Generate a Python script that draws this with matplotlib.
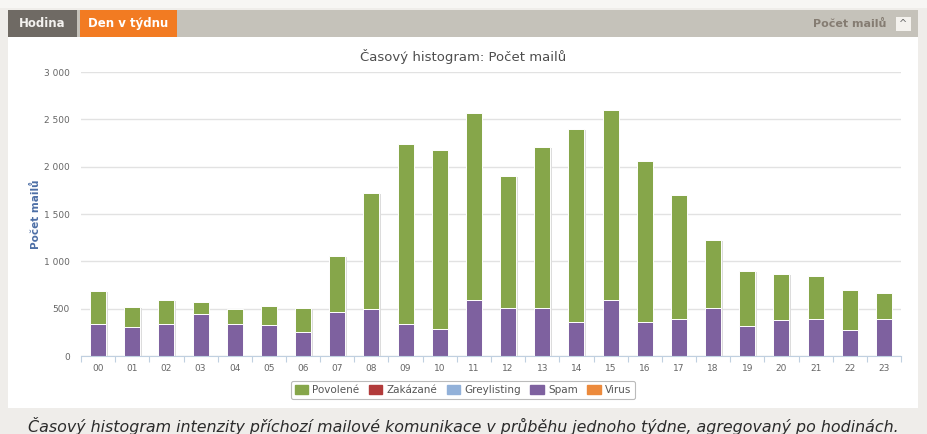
import matplotlib
matplotlib.use("Agg")
import matplotlib.pyplot as plt
import matplotlib.patches as mpatches
import matplotlib.transforms as mtrans
import numpy as np

hours = ["00", "01", "02", "03", "04", "05", "06", "07", "08", "09", "10", "11",
         "12", "13", "14", "15", "16", "17", "18", "19", "20", "21", "22", "23"]
povolene = [350, 207, 257, 132, 161, 200, 250, 593, 1232, 1893, 1889, 1972,
            1391, 1706, 2034, 2004, 1693, 1309, 718, 579, 492, 454, 417, 279]
zakazane = [0] * 24
greylisting = [0] * 24
spam = [336, 311, 336, 439, 339, 329, 257, 464, 493, 343, 282, 596,
        507, 507, 364, 596, 364, 396, 507, 314, 379, 396, 279, 389]
virus = [0] * 24
yticks = [0, 500, 1000, 1500, 2000, 2500, 3000]
ytick_labels = ["0", "500", "1 000", "1 500", "2 000", "2 500", "3 000"]

series_names = ["Povolené", "Zakázané", "Greylisting", "Spam", "Virus"]
colors = {"Povolené": "#86a64a", "Zakázané": "#b23b3b", "Greylisting": "#92b1d9",
          "Spam": "#7e619f", "Virus": "#ec8a3c"}

W, H = 927, 434
fig = plt.figure(figsize=(W / 100, H / 100), dpi=100)
fig.patch.set_facecolor("#efedea")

def fx(px):
    return px / W

def fy(py):
    return 1 - py / H

def frect(x0, y0, x1, y1, color, **kw):
    fig.patches.append(mpatches.Rectangle((fx(x0), fy(y1)), fx(x1 - x0), (y1 - y0) / H,
                                          transform=fig.transFigure, facecolor=color,
                                          edgecolor="none", zorder=-5, **kw))

# top strip, panel, header
frect(0, 0, W, 8, "#f7f6f4")
frect(8, 37, 918, 408, "#ffffff")
frect(8, 10, 918, 37, "#c5c2ba")
frect(8, 10, 77, 37, "#6f6a64")
frect(80, 10, 177, 37, "#f27b22")
frect(896, 17, 911, 31, "#f4f2ee")

fig.text(fx(42), fy(23.5), "Hodina", color="#f4f2ef", fontsize=8.5, fontweight="bold",
         ha="center", va="center", family="DejaVu Sans")
fig.text(fx(128), fy(23.5), "Den v týdnu", color="white", fontsize=8.5, fontweight="bold",
         ha="center", va="center", family="DejaVu Sans")
fig.text(fx(886), fy(23.5), "Počet mailů", color="#857c72", fontsize=8, fontweight="bold",
         ha="right", va="center", family="DejaVu Sans")
fig.text(fx(903.5), fy(24), "^", color="#666666", fontsize=7, ha="center", va="center")

fig.text(fx(463), fy(57), "Časový histogram: Počet mailů", color="#4d4d4d", fontsize=9.5,
         ha="center", va="center", family="DejaVu Sans")

fig.text(fx(463), fy(432), "Časový histogram intenzity příchozí mailové komunikace v průběhu jednoho týdne, agregovaný po hodinách.",
         color="#2b2b2b", fontsize=11.4, style="italic", ha="center", va="baseline",
         family="DejaVu Sans")

ax = fig.add_axes([fx(81), fy(356), fx(901) - fx(81), (356 - 72) / H])
ax.set_facecolor("none")
x = np.arange(len(hours))
width = 0.47

stack_order = ["Virus", "Spam", "Greylisting", "Zakázané", "Povolené"]
data = {"Povolené": povolene, "Zakázané": zakazane, "Greylisting": greylisting,
        "Spam": spam, "Virus": virus}
totals = np.sum([np.array(data[n]) for n in series_names], axis=0)

shadow_tr = ax.transData + mtrans.ScaledTranslation(1.5 / 100, -1 / 100, fig.dpi_scale_trans)
ax.bar(x, totals, width=width, color="#dcdcdc", transform=shadow_tr, zorder=1)

bottom = np.zeros(len(hours))
handles = {}
for name in stack_order:
    vals = np.array(data[name], dtype=float)
    ax.bar(x, vals, width=width, bottom=bottom, color=colors[name],
           edgecolor="white", linewidth=0.7, zorder=2)
    handles[name] = mpatches.Patch(color=colors[name])
    bottom += vals

ax.set_xlim(-0.5, len(hours) - 0.5)
ax.set_ylim(0, 3000)
ax.set_yticks(yticks)
ax.set_yticklabels(ytick_labels)
ax.set_xticks(x)
ax.set_xticklabels(hours)
ax.set_xticks(np.arange(-0.5, len(hours), 1.0), minor=True)
ax.tick_params(axis="x", which="major", length=0, pad=6, labelsize=6.5, labelcolor="#666666")
ax.tick_params(axis="x", which="minor", length=4, color="#c0d0e0", width=0.8)
ax.tick_params(axis="y", length=0, pad=8, labelsize=6.5, labelcolor="#666666")
ax.grid(axis="y", color="#e2e2e2", linewidth=1, zorder=0)
ax.set_axisbelow(True)
for s in ["top", "right", "left"]:
    ax.spines[s].set_visible(False)
ax.spines["bottom"].set_color("#c0d0e0")
ax.set_ylabel("Počet mailů", color="#4d6fa6", fontsize=7.5, fontweight="bold", labelpad=2)

leg = fig.legend([handles[n] for n in series_names], series_names, loc="center",
                 bbox_to_anchor=(fx(463), fy(390)), ncol=5, fontsize=7.5, frameon=True,
                 handlelength=1.3, handleheight=1.0, handletextpad=0.4, columnspacing=0.9,
                 borderpad=0.35, fancybox=True, labelcolor="#555555")
leg.get_frame().set_edgecolor("#aaaaaa")
leg.get_frame().set_linewidth(0.8)

fig.savefig("out.png", dpi=100, facecolor=fig.get_facecolor())
